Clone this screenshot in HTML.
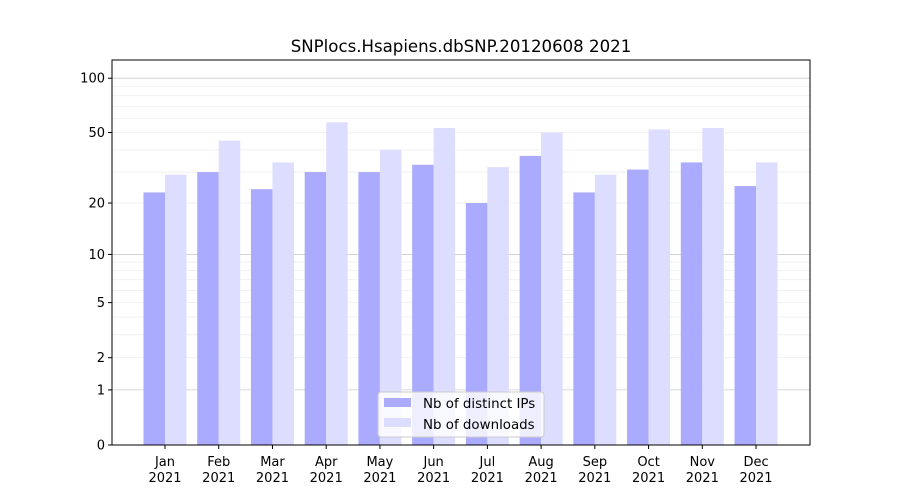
<!DOCTYPE html>
<html><head><meta charset="utf-8"><style>
body{margin:0;background:#fff}
svg{display:block;font-family:"DejaVu Sans","Liberation Sans",sans-serif}
</style></head><body>
<svg id="c" width="900" height="500" viewBox="0 0 900 500">
<text x="461" y="52" text-anchor="middle" font-size="16.6">SNPlocs.Hsapiens.dbSNP.20120608 2021</text>
<g id="grid"></g><g id="bars"></g><g id="axes"></g>
<g>
<rect x="378" y="392" width="166" height="45" rx="3" fill="#fff" fill-opacity="0.8" stroke="#ccc"/>
<rect x="384" y="398" width="27" height="9" fill="#aaaaff"/>
<text x="423" y="408" font-size="13.4">Nb of distinct IPs</text>
<rect x="384" y="418" width="27" height="9" fill="#ddddff"/>
<text x="423" y="429" font-size="13.4">Nb of downloads</text>
</g>
</svg>
<script>
const months=["Jan","Feb","Mar","Apr","May","Jun","Jul","Aug","Sep","Oct","Nov","Dec"];
const ips=[23,30,24,30,30,33,20,37,23,31,34,25];
const downloads=[29,45,34,57,40,53,32,50,29,52,53,34];
const yTicks=[0,1,2,5,10,20,50,100];
const NS="http://www.w3.org/2000/svg";
const L=112,R=810,T=60,B=445;
function y(v){return B-183*Math.log10(1+v);}
function xc(i){return 165+i*53.73;}
function mk(p,tag,a){const e=document.createElementNS(NS,tag);for(const k in a)e.setAttribute(k,a[k]);p.appendChild(e);return e;}
const grid=document.getElementById('grid'),bars=document.getElementById('bars'),axes=document.getElementById('axes');
const minor=[3,4,6,7,8,9,30,40,60,70,80,90,20,50,2,5];
minor.forEach(v=>{const l=mk(grid,'line',{x1:L,x2:R,y1:y(v),y2:y(v),stroke:'#eee','stroke-width':0.8});

});
[1,10,100].forEach(v=>{const l=mk(grid,'line',{x1:L,x2:R,y1:y(v),y2:y(v),stroke:'#ccc','stroke-width':0.8});

});
months.forEach((m,i)=>{
const a=mk(bars,'rect',{x:xc(i)-21.5,y:y(ips[i]),width:21.5,height:B-y(ips[i]),fill:'#aaaaff'});


const b=mk(bars,'rect',{x:xc(i),y:y(downloads[i]),width:21.5,height:B-y(downloads[i]),fill:'#ddddff'});


mk(axes,'line',{x1:xc(i),x2:xc(i),y1:B,y2:B+4,stroke:'#000'});
const t=mk(axes,'text',{x:xc(i),y:466,'text-anchor':'middle','font-size':13});t.textContent=m;


const t2=mk(axes,'text',{x:xc(i),y:482,'text-anchor':'middle','font-size':13});t2.textContent='2021';


});
yTicks.forEach(v=>{mk(axes,'line',{x1:L-4,x2:L,y1:y(v),y2:y(v),stroke:'#000'});
const t=mk(axes,'text',{x:L-7,y:y(v)+4.5,'text-anchor':'end','font-size':13});t.textContent=v;

});
const f=mk(axes,'rect',{x:L,y:T,width:R-L,height:B-T,fill:'none',stroke:'#000','stroke-width':1});


</script>
</body></html>
